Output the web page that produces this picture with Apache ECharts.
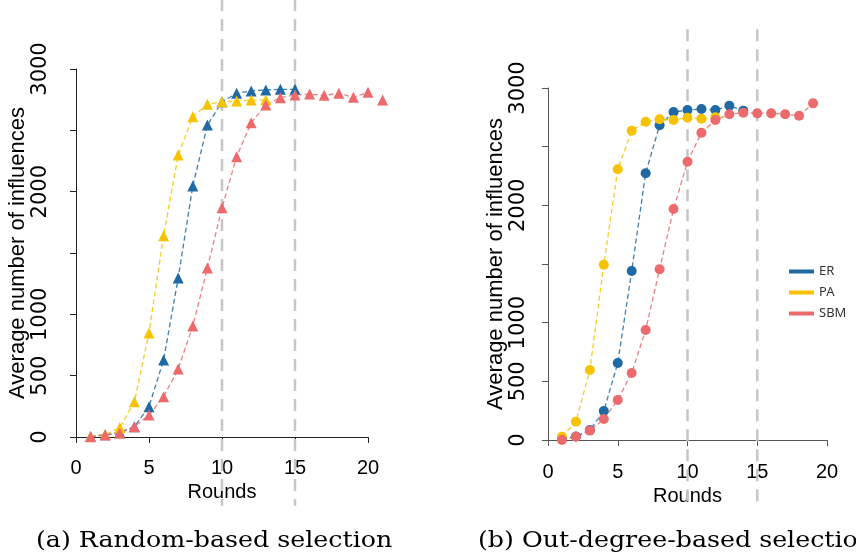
<!DOCTYPE html>
<html>
<head>
<meta charset="utf-8">
<script src="https://cdn.jsdelivr.net/npm/echarts@6/dist/echarts.min.js"></script>
</head>
<body style="margin:0">
<div id="container" style="width:856px;height:559px"></div>
<script>
// values, rounds start at 1
var erRandom  = [5, 18, 38, 84, 247, 628, 1296, 2046, 2543, 2733, 2802, 2821, 2829, 2834, 2834];
var paRandom  = [5, 20, 76, 288, 848, 1641, 2299, 2611, 2712, 2733, 2739, 2747, 2747];
var sbmRandom = [2, 16, 30, 84, 179, 329, 554, 905, 1378, 1869, 2285, 2562, 2706, 2766, 2788, 2796, 2785, 2802, 2769, 2810, 2747];

var erDegree  = [10, 30, 85, 247, 656, 1440, 2273, 2682, 2795, 2812, 2821, 2812, 2849, 2807];
var paDegree  = [28, 156, 597, 1494, 2307, 2636, 2713, 2733, 2727, 2747, 2738, 2750];
var sbmDegree = [0, 28, 80, 179, 341, 571, 938, 1455, 1969, 2372, 2619, 2727, 2776, 2790, 2784, 2784, 2776, 2764, 2869];

var refRounds = [10, 15];
var names = ['ER', 'PA', 'SBM'];
var colors = ['#1f6aa5', '#f7c300', '#ec6a6c'];
var captions = ['(a) Random-based selection', '(b) Out-degree-based selection'];

var dom = document.getElementById('container');
var myChart = echarts.init(dom);

function toPoints(arr) {
    return arr.map(function (v, i) { return [i + 1, v]; });
}

function xAxisFor(idx, off, gap, lineColor) {
    return {
        gridIndex: idx, type: 'value', min: 0, max: 20, interval: 5,
        offset: off,
        axisLine: { lineStyle: { color: lineColor, width: 1 } },
        axisTick: { length: 6, lineStyle: { color: lineColor } },
        axisLabel: { fontSize: 20, color: '#000', margin: 7, fontFamily: 'Liberation Sans' },
        splitLine: { show: false },
        name: 'Rounds', nameLocation: 'middle', nameGap: gap,
        nameTextStyle: { fontSize: 20, color: '#000', fontFamily: 'Liberation Sans' }
    };
}

function yAxisFor(idx, off, lineColor, margin, gap) {
    return {
        gridIndex: idx, type: 'value', min: 0, max: 3000, interval: 500,
        offset: off,
        axisLine: { show: true, lineStyle: { color: lineColor, width: 1 } },
        axisTick: { show: true, length: 6, lineStyle: { color: lineColor } },
        axisLabel: {
            rotate: 90, fontSize: 21, color: '#000', margin: margin, fontFamily: 'DejaVu Sans',
            formatter: function (v) { return (v === 1500 || v === 2500) ? '' : v; }
        },
        splitLine: { show: false },
        name: 'Average number of influences', nameLocation: 'middle', nameGap: gap,
        nameTextStyle: { fontSize: 22, color: '#000', fontFamily: 'Liberation Sans' }
    };
}

var series = [];
[[0, 3570], [1, 3500]].forEach(function (g) {
    refRounds.forEach(function (r) {
        series.push({
            type: 'line', xAxisIndex: g[0], yAxisIndex: g[0],
            data: [[r, g[1]], [r, -560]],
            symbol: 'none', clip: false, silent: true, z: 1,
            lineStyle: { color: '#c6c6c6', width: 2.5, type: [12, 8] }
        });
    });
});

var sets = [
    { idx: 0, symbol: 'triangle', size: 11, data: [erRandom, paRandom, sbmRandom] },
    { idx: 1, symbol: 'circle', size: 10, data: [erDegree, paDegree, sbmDegree] }
];
sets.forEach(function (s) {
    s.data.forEach(function (arr, k) {
        series.push({
            name: names[k], type: 'line', xAxisIndex: s.idx, yAxisIndex: s.idx,
            data: toPoints(arr), clip: false, z: 3,
            symbol: s.symbol, symbolSize: s.size,
            itemStyle: { color: colors[k] },
            lineStyle: { color: colors[k], width: 1.3, type: [5, 3], opacity: 0.85 }
        });
    });
});

option = {
    animation: false,
    backgroundColor: '#fff',
    grid: [
        { left: 76, top: 69, width: 292, height: 368 },
        { left: 548, top: 88, width: 279, height: 352 }
    ],
    xAxis: [xAxisFor(0, 14, 24, '#222'), xAxisFor(1, 15, 17, '#555')],
    yAxis: [yAxisFor(0, 13, '#222', 12, 27), yAxisFor(1, 12, '#555', 7, 17)],
    legend: {
        data: names, orient: 'vertical', left: 784, top: 260,
        icon: 'rect', itemWidth: 25, itemHeight: 4, itemGap: 8,
        textStyle: { fontSize: 13, color: '#333', fontFamily: 'Noto Sans' }
    },
    graphic: [
        { type: 'text', x: 36, y: 530, scaleX: 1.15, style: { text: captions[0], font: '22px "DejaVu Serif"', fill: '#000' } },
        { type: 'text', x: 478, y: 530, scaleX: 1.15, style: { text: captions[1], font: '22px "DejaVu Serif"', fill: '#000' } }
    ],
    series: series
};
myChart.setOption(option);
</script>
</body>
</html>
